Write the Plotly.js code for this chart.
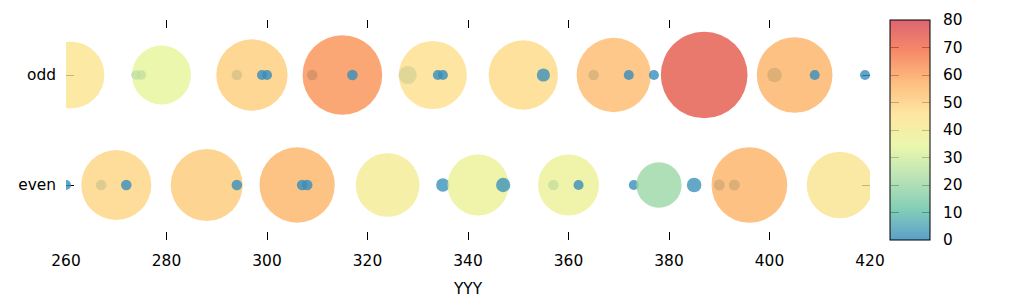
<!DOCTYPE html>
<html>
<head>
<meta charset="utf-8">
<script src="https://cdn.plot.ly/plotly-3.0.1.min.js"></script>
<style>html,body{margin:0;padding:0;background:#fff;}#chart{width:1024px;height:300px;}</style>
</head>
<body>
<div id="chart"></div>
<script>
// Row categories
var rowNames = ["odd", "even"];

// "odd" row: positions and values (sorted by position = drawing order)
var oddX = [261, 274, 275, 279, 294, 297, 299, 300, 309, 315, 317, 328, 333, 334, 335, 351, 355, 365, 369, 372, 377, 387, 401, 405, 409, 419];
var oddV = [43.8, 0.9, 0.9, 34.3, 1.1, 50.0, 1.0, 1.0, 1.1, 62.5, 1.1, 3.2, 45.5, 1.0, 1.0, 47.3, 1.7, 1.1, 54.3, 1.0, 1.0, 74.0, 2.1, 56.4, 1.0, 1.0];

// "even" row
var evenX = [260, 267, 270, 272, 288, 294, 306, 307, 308, 324, 335, 342, 347, 357, 360, 362, 373, 378, 385, 390, 393, 396, 414];
var evenV = [1.0, 1.1, 48.2, 1.1, 51.0, 1.1, 55.8, 1.1, 1.1, 39.9, 1.8, 36.6, 2.0, 1.1, 36.6, 1.0, 1.0, 20.2, 2.1, 1.2, 1.2, 56.4, 43.3];

// axis ticks
var xTicks = [260, 280, 300, 320, 340, 360, 380, 400, 420];
var cbTicks = [0, 10, 20, 30, 40, 50, 60, 70, 80];
var xTitle = "YYY";

var FONT = {family: "DejaVu Sans", size: 15.4, color: "#000"};
// 8-class Spectral, reversed, alpha 0.8
var spectralColors = ["50,136,189", "102,194,165", "171,221,164", "230,245,152", "254,224,139", "253,174,97", "244,109,67", "213,62,79"];
var colorscale = spectralColors.map(function (c, i) {
  return [i / (spectralColors.length - 1), "rgba(" + c + ",0.8)"];
});

function rowY(name, n) { var a = []; for (var i = 0; i < n; i++) a.push(name); return a; }

function mk(xs, vs, name) {
  return {
    type: "scatter", mode: "markers",
    x: xs, y: rowY(name, xs.length),
    marker: {
      size: vs, sizemode: "area", sizeref: 2 / 101.6,
      color: vs, coloraxis: "coloraxis", opacity: 1,
      line: {width: 0}
    },
    hoverinfo: "skip", showlegend: false, cliponaxis: true
  };
}

var data = [mk(oddX, oddV, rowNames[0]), mk(evenX, evenV, rowNames[1])];

var PW = 1024 - 66 - 40;
var CB_L = 824 / PW, CB_R = 864 / PW;
var sideTicks = {
  overlaying: "y", anchor: "free",
  range: [0, 80], tickvals: cbTicks, showticklabels: false,
  ticks: "inside", ticklen: 8, tickwidth: 1, tickcolor: "#000",
  showline: false, showgrid: false, zeroline: false
};
var layout = {
  width: 1024, height: 300,
  margin: {l: 66, r: 40, t: 20, b: 60, pad: 0, autoexpand: false},
  paper_bgcolor: "#fff", plot_bgcolor: "#fff",
  font: FONT,
  showlegend: false,
  xaxis: {
    domain: [0, 804 / PW],
    range: [260, 420], tickvals: xTicks,
    ticks: "inside", ticklen: 8, tickwidth: 1, tickcolor: "#000",
    mirror: "ticks", showline: false, showgrid: false, zeroline: false,
    layer: "below traces", tickfont: FONT, ticklabelstandoff: 10,
    title: {text: xTitle, font: FONT, standoff: 13}
  },
  yaxis: {
    type: "category", categoryorder: "array", categoryarray: ["even", "odd"],
    range: [-0.5, 1.5],
    ticks: "inside", ticklen: 8, tickwidth: 1, tickcolor: "#000",
    mirror: "ticks", showline: false, showgrid: false, zeroline: false,
    layer: "below traces", tickfont: FONT, ticklabelstandoff: 9
  },
  yaxis2: Object.assign({}, sideTicks, {position: CB_L, side: "left"}),
  yaxis3: Object.assign({}, sideTicks, {position: CB_R, side: "right"}),
  coloraxis: {
    cmin: 0, cmax: 80, colorscale: colorscale,
    colorbar: {
      x: CB_L, xanchor: "left", xref: "paper", xpad: 0,
      y: 0.5, yanchor: "middle", len: 1, lenmode: "fraction", ypad: 0,
      thickness: 40, thicknessmode: "pixels",
      outlinewidth: 1, outlinecolor: "#000",
      tickvals: cbTicks, ticks: "outside", ticklen: 10, tickwidth: 1, tickcolor: "rgba(0,0,0,0)",
      tickfont: FONT
    }
  }
};

// empty traces so the colorbar-edge tick axes exist
data.push({type: "scatter", x: [], y: [], yaxis: "y2", hoverinfo: "skip", showlegend: false});
data.push({type: "scatter", x: [], y: [], yaxis: "y3", hoverinfo: "skip", showlegend: false});

Plotly.newPlot("chart", data, layout, {staticPlot: true, displayModeBar: false});
</script>
</body>
</html>
